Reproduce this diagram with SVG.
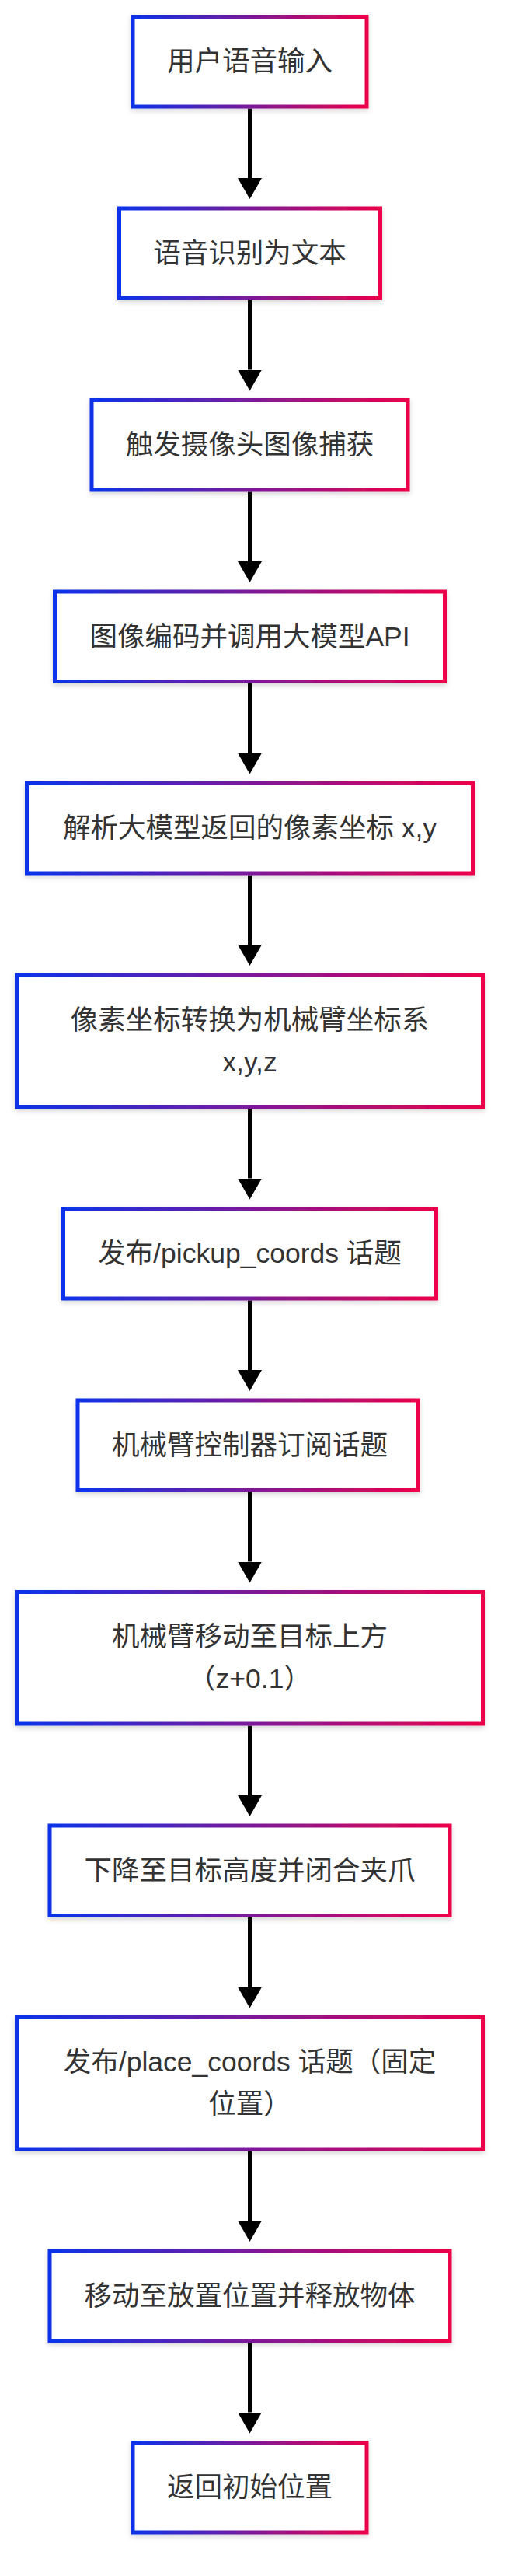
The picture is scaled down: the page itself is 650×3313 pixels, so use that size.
<svg xmlns="http://www.w3.org/2000/svg" width="650" height="3313" viewBox="0 0 650 3313">
  <defs>
    <linearGradient id="grad" x1="0" y1="0" x2="1" y2="0">
      <stop offset="0" stop-color="#0a33ea"/>
      <stop offset="1" stop-color="#ec004a"/>
    </linearGradient>
    <filter id="shadow" x="-10%" y="-20%" width="120%" height="150%">
      <feDropShadow dx="0" dy="3" stdDeviation="3" flood-color="#000" flood-opacity="0.16"/>
    </filter>
    <marker id="arrow" markerUnits="userSpaceOnUse" viewBox="0 0 27 31" markerWidth="27" markerHeight="31" refX="0" refY="15.5" orient="auto">
      <polygon points="0,0 27,15.5 0,31" fill="#000"/>
    </marker>
  </defs>
  <style>
    .box { fill: #ffffff; stroke: url(#grad); stroke-width: 5; filter: url(#shadow); }
    .lbl { font-family: "Liberation Sans", "Noto Sans CJK SC", sans-serif; font-size: 35.5px; fill: #333333; text-anchor: middle; dominant-baseline: central; }
    .edge { stroke: #000; stroke-width: 5; fill: none; marker-end: url(#arrow); }
  </style>
  <rect x="0" y="0" width="650" height="3313" fill="#ffffff"/>

  <g id="connectors">
    <path class="edge" d="M321.5,139.5 V229"/>
    <path class="edge" d="M321.5,386 V475.5"/>
    <path class="edge" d="M321.5,632.5 V722"/>
    <path class="edge" d="M321.5,879 V968.5"/>
    <path class="edge" d="M321.5,1125.5 V1215"/>
    <path class="edge" d="M321.5,1426 V1515.5"/>
    <path class="edge" d="M321.5,1672.5 V1762"/>
    <path class="edge" d="M321.5,1919 V2008.5"/>
    <path class="edge" d="M321.5,2219.5 V2309"/>
    <path class="edge" d="M321.5,2466 V2555.5"/>
    <path class="edge" d="M321.5,2766.5 V2856"/>
    <path class="edge" d="M321.5,3013 V3102.5"/>
  </g>

  <g id="n1">
    <rect class="box" x="171" y="21.5" width="301" height="115.5"/>
    <text class="lbl" x="321.5" y="79.25">用户语音输入</text>
  </g>
  <g id="n2">
    <rect class="box" x="153.5" y="268" width="336" height="115.5"/>
    <text class="lbl" x="321.5" y="325.75">语音识别为文本</text>
  </g>
  <g id="n3">
    <rect class="box" x="118" y="514.5" width="407" height="115.5"/>
    <text class="lbl" x="321.5" y="572.25">触发摄像头图像捕获</text>
  </g>
  <g id="n4">
    <rect class="box" x="70.5" y="761" width="502" height="115.5"/>
    <text class="lbl" x="321.5" y="818.75">图像编码并调用大模型API</text>
  </g>
  <g id="n5">
    <rect class="box" x="34.5" y="1007.5" width="574" height="115.5"/>
    <text class="lbl" x="321.5" y="1065.25">解析大模型返回的像素坐标 x,y</text>
  </g>
  <g id="n6">
    <rect class="box" x="21.5" y="1254" width="600" height="169.5"/>
    <text class="lbl" x="321.5" y="1311.75">像素坐标转换为机械臂坐标系</text>
    <text class="lbl" x="321.5" y="1365.75">x,y,z</text>
  </g>
  <g id="n7">
    <rect class="box" x="81.5" y="1554.5" width="480" height="115.5"/>
    <text class="lbl" x="321.5" y="1612.25">发布/pickup_coords 话题</text>
  </g>
  <g id="n8">
    <rect class="box" x="100" y="1801" width="438" height="115.5"/>
    <text class="lbl" x="321.5" y="1858.75">机械臂控制器订阅话题</text>
  </g>
  <g id="n9">
    <rect class="box" x="21.5" y="2047.5" width="600" height="169.5"/>
    <text class="lbl" x="321.5" y="2105.25">机械臂移动至目标上方</text>
    <text class="lbl" x="321.5" y="2159.25">（z+0.1）</text>
  </g>
  <g id="n10">
    <rect class="box" x="64" y="2348" width="515" height="115.5"/>
    <text class="lbl" x="321.5" y="2405.75">下降至目标高度并闭合夹爪</text>
  </g>
  <g id="n11">
    <rect class="box" x="21.5" y="2594.5" width="600" height="169.5"/>
    <text class="lbl" x="321.5" y="2652.25">发布/place_coords 话题（固定</text>
    <text class="lbl" x="321.5" y="2706.25">位置）</text>
  </g>
  <g id="n12">
    <rect class="box" x="64" y="2895" width="515" height="115.5"/>
    <text class="lbl" x="321.5" y="2952.75">移动至放置位置并释放物体</text>
  </g>
  <g id="n13">
    <rect class="box" x="171" y="3141.5" width="301" height="115.5"/>
    <text class="lbl" x="321.5" y="3199.25">返回初始位置</text>
  </g>
</svg>
